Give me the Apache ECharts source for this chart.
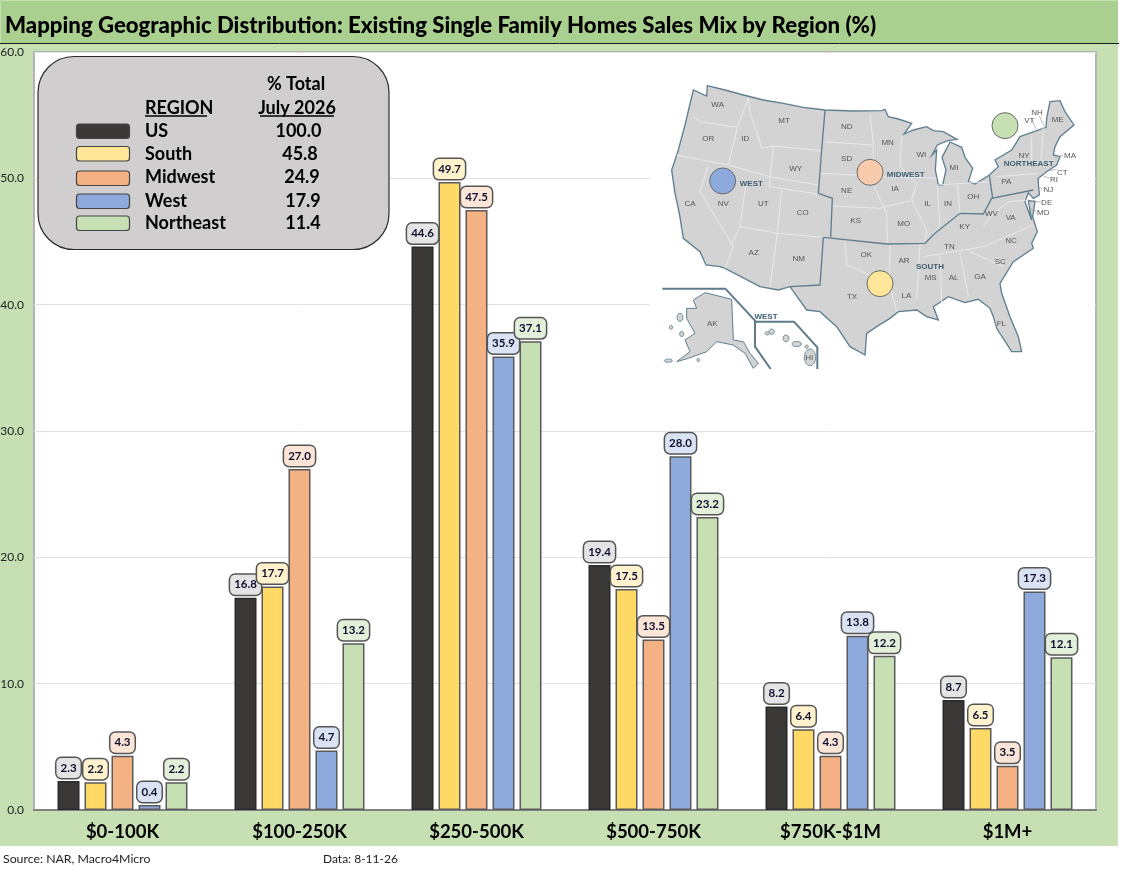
<!DOCTYPE html>
<html><head><meta charset="utf-8">
<style>html,body{margin:0;padding:0;background:#fff}#c{width:1121px;height:871px}</style>
<script src="https://cdn.jsdelivr.net/npm/echarts@6/dist/echarts.min.js"></script>
</head><body><div id="c"></div>
<script>
const categories = ['$0-100K','$100-250K','$250-500K','$500-750K','$750K-$1M','$1M+'];
const regions = ['US','South','Midwest','West','Northeast'];
const totals = ['100.0','45.8','24.9','17.9','11.4'];
const us = [2.3,16.8,44.6,19.4,8.2,8.7];
const south = [2.2,17.7,49.7,17.5,6.4,6.5];
const midwest = [4.3,27.0,47.5,13.5,4.3,3.5];
const west = [0.4,4.7,35.9,28.0,13.8,17.3];
const northeast = [2.2,13.2,37.1,23.2,12.2,12.1];
const seriesValues = [us,south,midwest,west,northeast];
const barColors = ['#3B3838','#FFD966','#F4B183','#8EA9DB','#C6E0B4'];
const labelFills = ['#E4E4E4','#FFF2CC','#FBE5D6','#DAE3F3','#E2F0D9'];
const swatchFills = ['#3B3838','#FFE699','#F4B183','#8EA9DB','#C6E0B4'];
const FONT = 'Lato, "Open Sans", sans-serif';
const MAPFONT = 'Arial, "Liberation Sans", sans-serif';

// ---- decorative frame, legend table and inset map ----
const gfx = [];
gfx.push({type:'rect',silent:true,z:-10,shape:{x:0,y:0,width:1118,height:846},style:{fill:'#C6E0B4'}});
gfx.push({type:'rect',silent:true,z:-9,shape:{x:1,y:1,width:1117,height:42},style:{fill:'#A9D08E'}});
gfx.push({type:'line',silent:true,z:-8,shape:{x1:0,y1:43.5,x2:1119,y2:43.5},style:{stroke:'#1a1a1a',lineWidth:1}});
gfx.push({type:'text',z:5,silent:true,style:{x:5,y:26,text:'Mapping Geographic Distribution: Existing Single Family Homes Sales Mix by Region (%)',fill:'#000',font:'900 22.2px '+FONT,verticalAlign:'middle'}});
gfx.push({type:'text',z:5,silent:true,style:{x:3,y:859,text:'Source: NAR, Macro4Micro',fill:'#222',font:'12.3px '+FONT,verticalAlign:'middle'}});
gfx.push({type:'text',z:5,silent:true,style:{x:323,y:859,text:'Data: 8-11-26',fill:'#222',font:'12px '+FONT,verticalAlign:'middle'}});

// white backing of the map picture
gfx.push({type:'rect',z:3,silent:true,shape:{x:650,y:60,width:444,height:315},style:{fill:'#fff'}});

// legend table
gfx.push({type:'rect',z:6,silent:true,shape:{x:38,y:56.5,width:351,height:193,r:36},style:{fill:'#D0CECE',stroke:'#2b2b2b',lineWidth:1.2}});
const T=(x,y,t,al,extra)=>({type:'text',z:8,silent:true,style:Object.assign({x,y,text:t,fill:'#000',font:'bold 18px '+FONT,align:al||'left',verticalAlign:'middle'},extra||{})});
gfx.push(T(296,84.5,'% Total','center'));
gfx.push(T(145,108,'REGION'));
gfx.push(T(297,108,'July 2026','center'));
gfx.push({type:'line',z:8,silent:true,shape:{x1:145,y1:116,x2:207,y2:116},style:{stroke:'#000',lineWidth:1.3}});
gfx.push({type:'line',z:8,silent:true,shape:{x1:260,y1:116,x2:334,y2:116},style:{stroke:'#000',lineWidth:1.3}});
const rowY=[131,154,177.5,201,223.5];
const swY=[131,153.5,178,201,223];
const totalX=[298.5,300,302,303,303];
regions.forEach((r,i)=>{
  gfx.push({type:'rect',z:7,silent:true,shape:{x:76.5,y:swY[i]-7,width:53,height:14.5,r:3},style:{fill:swatchFills[i],stroke:'#444',lineWidth:1.2}});
  gfx.push(T(145,rowY[i],r));
  gfx.push(T(totalX[i],rowY[i],totals[i],'center'));
});

// inset map, drawn in a local coordinate system scaled 1/3
const mapKids=[];
const outline=[[172,47],[225,60],[280,75],[340,90],[400,100],[460,112],[525,120],[610,123],[695,122],[705,118],[715,140],[745,147],[785,160],[762,192],[790,180],[830,170],[850,182],[880,185],[921,208],[893,212],[862,225],[846,255],[860,240],[856,300],[865,345],[878,345],[888,300],[876,262],[900,216],[935,232],[945,262],[968,295],[955,335],[975,342],[1018,315],[1045,290],[1035,270],[1085,240],[1110,200],[1188,172],[1190,145],[1200,95],[1230,92],[1245,125],[1272,165],[1230,200],[1215,230],[1210,255],[1230,260],[1220,285],[1190,305],[1165,325],[1165,340],[1168,375],[1150,385],[1135,368],[1125,395],[1145,450],[1135,392],[1155,395],[1148,440],[1162,485],[1145,520],[1150,535],[1090,575],[1050,640],[1055,670],[1080,740],[1105,800],[1115,845],[1085,845],[1040,775],[1030,740],[1020,715],[985,688],[945,698],[895,680],[850,710],[865,750],[830,740],[800,720],[745,725],[720,745],[680,770],[650,790],[645,855],[600,830],[560,770],[510,725],[470,720],[420,650],[385,660],[330,650],[225,595],[210,590],[168,585],[150,545],[100,505],[88,430],[75,370],[65,300],[85,240],[105,165],[130,60],[170,78],[172,47]];
mapKids.push({type:'polygon',shape:{points:outline},style:{fill:'#D3D3D3',stroke:'#5F7F8F',lineWidth:4}});
const stateLines=[[[80,255],[235,285],[360,320],[505,345]],[[130,140],[150,155],[262,172]],[[295,85],[262,172],[235,285]],[[295,85],[300,130],[320,185],[335,235],[370,228]],[[370,228],[515,242]],[[370,228],[358,350],[505,372]],[[395,360],[382,490]],[[175,285],[150,365],[250,530],[225,595]],[[288,340],[270,470],[245,525]],[[270,470],[382,490],[520,502]],[[382,490],[360,650]],[[525,215],[665,225]],[[512,310],[670,318],[860,325]],[[548,408],[690,415],[780,392]],[[660,130],[670,225],[672,350],[710,430],[712,520]],[[755,200],[750,290],[800,340],[785,390],[830,480],[825,520]],[[862,345],[870,470],[848,490]],[[922,340],[930,430]],[[862,345],[1018,335]],[[585,510],[590,585],[660,615],[720,610]],[[720,525],[718,640],[740,725]],[[810,525],[800,690]],[[870,560],[875,700]],[[930,550],[955,680]],[[960,545],[1060,590]],[[820,560],[1000,530],[1150,465]],[[1000,470],[1020,440],[1075,395],[1135,390]],[[1145,200],[1145,280]],[[1180,170],[1172,290]],[[1040,320],[1165,310]],[[1145,280],[1210,272]]];
stateLines.forEach(p=>mapKids.push({type:'polyline',shape:{points:p},style:{fill:'none',stroke:'#EDEDED',lineWidth:2.6}}));
const regionLines=[[[525,120],[515,240],[505,370],[547,385],[542,502]],[[520,502],[510,645],[420,650]],[[520,502],[710,522],[825,520],[855,490],[930,430],[1000,432],[1025,385],[1150,360]],[[1018,315],[1028,385]]];
regionLines.forEach(p=>mapKids.push({type:'polyline',shape:{points:p},style:{fill:'none',stroke:'#5F7F8F',lineWidth:4}}));
// Alaska
mapKids.push({type:'polygon',shape:{points:[[130,690],[165,668],[245,688],[250,810],[280,815],[300,850],[325,880],[310,895],[285,850],[250,825],[200,815],[170,845],[115,865],[80,875],[120,845],[105,810],[135,790],[110,745],[110,715],[140,715]]},style:{fill:'#D3D3D3',stroke:'#5F7F8F',lineWidth:3}});
[[90,742,9,12],[63,772,5,6],[95,792,6,8],[55,872,12,5],[145,870,4,5]].forEach(e=>mapKids.push({type:'ellipse',shape:{cx:e[0],cy:e[1],rx:e[2],ry:e[3]},style:{fill:'#D3D3D3',stroke:'#5F7F8F',lineWidth:2.5}}));
// Hawaii
[[352,790,7,5],[365,785,8,8],[408,805,9,10],[440,822,14,8],[470,830,5,5],[480,862,17,25]].forEach(e=>mapKids.push({type:'ellipse',shape:{cx:e[0],cy:e[1],rx:e[2],ry:e[3]},style:{fill:'#D3D3D3',stroke:'#5F7F8F',lineWidth:2.5}}));
// inset frames
[[[37,656],[226,656],[315,752],[315,830],[362,897]],[[315,755],[432,755],[502,832],[502,897]]].forEach(p=>mapKids.push({type:'polyline',shape:{points:p},style:{fill:'none',stroke:'#5F7A88',lineWidth:6}}));
// leader lines
[[[1145,145],[1158,178]],[[1168,138],[1182,168]],[[1240,256],[1215,262]],[[1220,298],[1195,302]],[[1200,325],[1180,318]],[[1180,358],[1165,350]],[[1172,397],[1150,392]],[[1160,425],[1142,418]]].forEach(p=>mapKids.push({type:'line',shape:{x1:p[0][0],y1:p[0][1],x2:p[1][0],y2:p[1][1]},style:{stroke:'#9a9a9a',lineWidth:2}}));
// bubbles
[[218,333,'#8EA9DB'],[660,307,'#F8CBAD'],[690,641,'#FFE699'],[1065,167,'#C6E0B4']].forEach(c=>mapKids.push({type:'circle',shape:{cx:c[0],cy:c[1],r:39},style:{fill:c[2],stroke:'#6b6b6b',lineWidth:3}}));
const stateText=[['WA',203,104],['OR',175,205],['CA',120,402],['NV',220,402],['ID',286,205],['MT',402,151],['WY',437,297],['UT',340,402],['CO',458,427],['AZ',311,549],['NM',446,567],['ND',590,171],['SD',590,267],['NE',590,363],['KS',617,452],['MN',713,219],['IA',735,357],['MO',761,460],['WI',814,255],['IL',833,402],['IN',894,401],['MI',912,294],['OH',970,381],['OK',649,555],['TX',606,681],['AR',762,571],['LA',769,677],['MS',842,624],['AL',911,623],['TN',898,529],['KY',944,469],['GA',990,621],['FL',1054,762],['SC',1051,576],['NC',1083,511],['VA',1082,444],['WV',1024,430],['PA',1069,335],['NY',1122,256],['ME',1223,150],['NH',1161,127],['VT',1138,153],['MA',1260,256],['CT',1237,307],['RI',1212,330],['NJ',1195,360],['DE',1190,398],['MD',1180,427],['AK',187,760],['HI',478,864]];
stateText.forEach(s=>mapKids.push({type:'text',style:{x:s[1],y:s[2],text:s[0],fill:'#555',font:'24px '+MAPFONT,align:'center',verticalAlign:'middle'}}));
[['WEST',304,341],['MIDWEST',767,314],['SOUTH',840,591],['NORTHEAST',1136,282],['WEST',348,739]].forEach(s=>mapKids.push({type:'text',style:{x:s[1],y:s[2],text:s[0],fill:'#3E5F72',font:'bold 24px '+MAPFONT,align:'center',verticalAlign:'middle'}}));
mapKids.forEach(k=>{k.z=4;});
gfx.push({type:'group',silent:true,z:4,x:650,y:70,scaleX:1/3,scaleY:1/3,children:mapKids});

const chart=echarts.init(document.getElementById('c'),null,{renderer:'canvas',width:1121,height:871});
chart.setOption({
  animation:false,
  backgroundColor:'#fff',
  textStyle:{fontFamily:FONT},
  grid:{left:34,right:25,top:52,bottom:61,outerBoundsMode:'none',show:true,backgroundColor:'#fff',borderColor:'#B4B4B4',borderWidth:2},
  xAxis:{type:'category',data:categories,
    axisLine:{show:true,lineStyle:{color:'#808080',width:2}},axisTick:{show:false},
    axisLabel:{color:'#000',fontFamily:FONT,fontWeight:'bold',fontSize:18.5,margin:13,interval:0}},
  yAxis:{type:'value',min:0,max:60,interval:10,
    axisLine:{show:false},axisTick:{show:false},
    splitLine:{lineStyle:{color:'#E2E2E2',width:1}},
    axisLabel:{color:'#222',fontFamily:FONT,fontSize:12,margin:10,formatter:v=>v.toFixed(1)}},
  series:regions.map((name,i)=>({
    name,type:'bar',data:seriesValues[i],barWidth:22,barGap:'22.7%',
    itemStyle:{color:barColors[i],borderColor:i===0?'#2A2A2A':'#5A5A5A',borderWidth:1.5},
    label:{show:true,position:'top',distance:3,formatter:p=>p.value.toFixed(1),
      fontFamily:FONT,fontWeight:'bold',fontSize:11.5,color:'#0F0F30',
      backgroundColor:labelFills[i],borderColor:'#555',borderWidth:1.5,borderRadius:5,padding:[4,4,4,4]}
  })),
  graphic:gfx
});
</script></body></html>
